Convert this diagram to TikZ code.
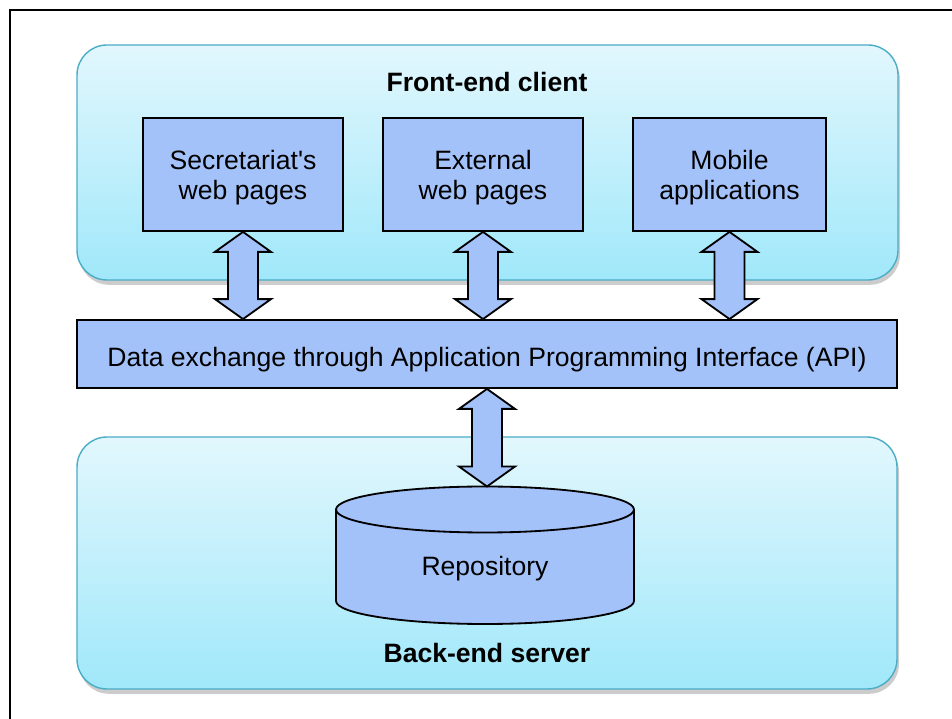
\documentclass[tikz,border=0pt]{standalone}
\usepackage{fontspec}
\setmainfont{Liberation Sans}
\usetikzlibrary{calc,shadows}

\definecolor{boxblue}{RGB}{164,194,250}
\definecolor{paletop}{RGB}{226,247,253}
\definecolor{palebot}{RGB}{160,232,250}
\definecolor{rimblue}{RGB}{75,172,198}

\tikzset{
  every node/.style={font=\fontsize{18.9}{21.3}\selectfont},
  group/.style={rounded corners=0.75cm, draw=rimblue, line width=1pt,
    top color=paletop, bottom color=palebot,
    drop shadow={shadow xshift=0.05cm, shadow yshift=-0.12cm, opacity=0.4}},
  grouptitle/.style={font=\fontsize{18.9}{21.3}\selectfont\bfseries},
  box/.style={draw, fill=boxblue, line width=1.3pt, align=center, minimum height=2.825cm},
  flow/.style={draw, fill=boxblue, line width=1.3pt, line join=miter}
}

% text set a little lower, keeping its size
\newcommand{\dropby}[2]{\raisebox{-#1}[\height][\depth]{#2}}

% block arrow with a head at both ends, from #1 down to #2
\newcommand{\twoway}[2]{%
  \draw[flow] let \p1=(#1), \p2=(#2) in
    (\x1,\y1) -- (\x1+19.9pt,\y1-14.2pt) -- (\x1+10.7pt,\y1-14.2pt)
    -- (\x1+10.7pt,\y2+14.2pt) -- (\x1+19.9pt,\y2+14.2pt) -- (\x1,\y2)
    -- (\x1-19.9pt,\y2+14.2pt) -- (\x1-10.7pt,\y2+14.2pt)
    -- (\x1-10.7pt,\y1-14.2pt) -- (\x1-19.9pt,\y1-14.2pt) -- cycle;}

\begin{document}
\begin{tikzpicture}
    \useasboundingbox (0,0) rectangle (23.8,17.975);
    \clip (0,0) rectangle (23.8,17.975);
    \draw[line width=1.2pt] (0.25,-1) rectangle (25,17.725);

    % client side
    \node[group, minimum width=20.525cm, minimum height=5.875cm] (front) at (12.1875,13.9125) {};
    \node[grouptitle] (fronttitle) at (12.175,15.925) {Front-end client};
    \node[box, minimum width=5cm] (sec) at (6.075,13.6125)
        {\dropby{2.1pt}{Secretariat\textquotesingle s}\\\dropby{2.1pt}{web pages}};
    \node[box, minimum width=5cm] (ext) at (12.075,13.6125)
        {\dropby{2.1pt}{External}\\\dropby{2.1pt}{web pages}};
    \node[box, minimum width=4.825cm] (mob) at (18.2375,13.6125)
        {\dropby{2.1pt}{Mobile}\\\dropby{2.1pt}{applications}};

    % api layer
    \node[box, minimum width=20.5cm, minimum height=1.7cm] (api) at (12.175,9.125)
        {\dropby{4.3pt}{Data exchange through Application Programming Interface (API)}};

    % server side
    \node[group, minimum width=20.5cm, minimum height=6.3cm] (back) at (12.175,3.9) {};
    \draw[flow] (8.4,5.2375) -- (8.4,2.95)
        arc[start angle=180, end angle=360, x radius=3.725, y radius=0.575]
        -- (15.85,5.2375)
        arc[start angle=0, end angle=180, x radius=3.725, y radius=0.575] -- cycle;
    \draw[line width=1.3pt] (8.4,5.2375)
        arc[start angle=180, end angle=360, x radius=3.725, y radius=0.575];
    \coordinate (repotop) at (12.125,5.8125);
    \node (repo) at (12.125,3.75) {Repository};
    \node[grouptitle] (backtitle) at (12.175,1.65) {Back-end server};

    % links
    \twoway{sec.south}{api.north}
    \twoway{ext.south}{api.north}
    \twoway{mob.south}{api.north}
    \twoway{api.south}{repotop}
\end{tikzpicture}
\end{document}
